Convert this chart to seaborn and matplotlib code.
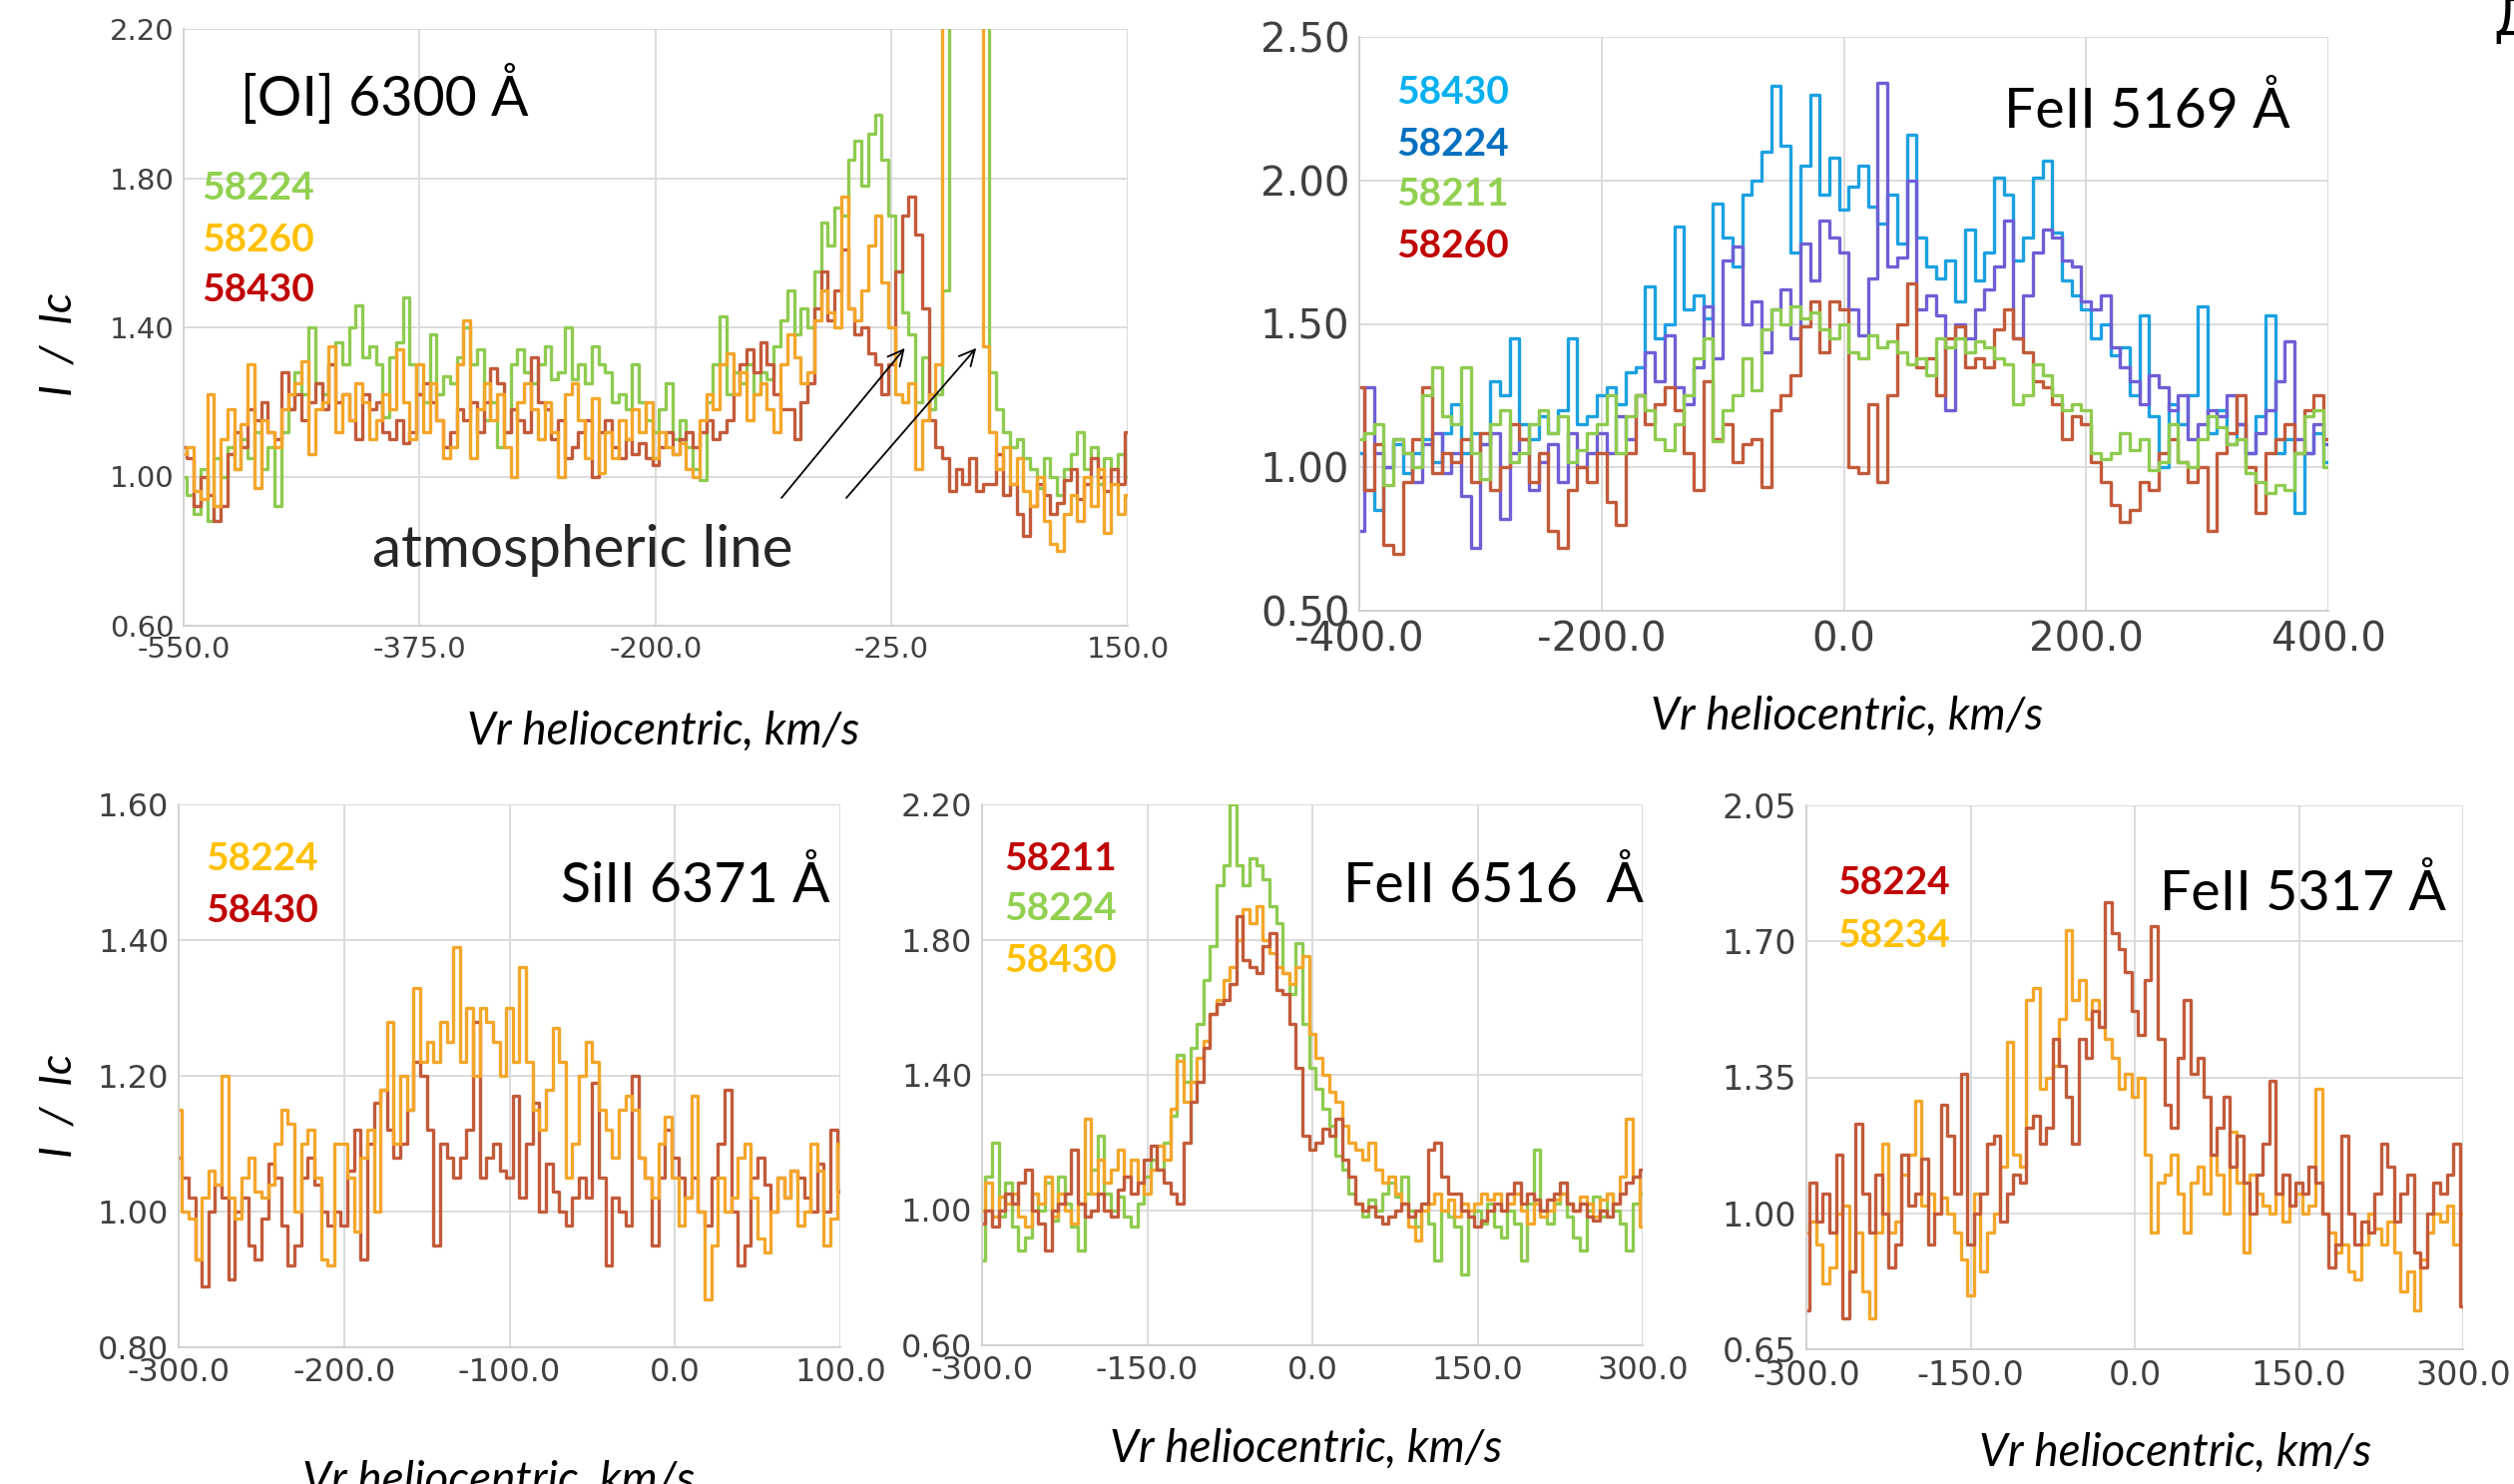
import numpy as np
import matplotlib
matplotlib.use("Agg")
import matplotlib.pyplot as plt
import seaborn as sns

# ---------------- DATA ----------------
# [OI] 6300 A : velocity grid -550..150 km/s
oi_vmin, oi_vmax = -550, 150
oi_58224 = [1.00,0.95,0.90,1.02,0.88,1.05,1.00,1.08,1.02,1.10,
            1.05,1.12,1.02,1.08,0.92,1.12,1.18,1.28,1.22,1.40,
            1.25,1.22,1.30,1.36,1.30,1.40,1.46,1.32,1.35,1.30,
            1.16,1.32,1.36,1.48,1.30,1.22,1.20,1.38,1.22,1.27,
            1.25,1.32,1.40,1.30,1.34,1.15,1.20,1.08,1.12,1.30,
            1.34,1.28,1.25,1.30,1.35,1.26,1.28,1.40,1.26,1.30,
            1.25,1.35,1.30,1.28,1.20,1.22,1.18,1.30,1.20,1.15,
            1.12,1.18,1.25,1.10,1.15,1.08,1.02,0.99,1.20,1.30,
            1.43,1.22,1.28,1.25,1.30,1.22,1.28,1.26,1.35,1.42,
            1.50,1.38,1.45,1.40,1.55,1.68,1.62,1.72,1.70,1.85,
            1.90,1.78,1.92,1.97,1.85,1.70,1.55,1.44,1.38,1.20,
            1.32,1.18,1.22,1.50,3.00,3.00,3.00,3.00,3.00,3.00,
            1.28,1.18,1.12,1.08,1.10,1.05,1.02,0.97,1.05,1.00,
            0.95,1.02,1.06,1.12,1.02,1.08,0.98,1.05,1.02,1.06,1.00]
oi_58260 = [1.06,1.08,0.96,0.94,1.22,0.92,1.10,1.18,1.02,1.14,
            1.30,0.97,1.15,1.12,1.08,1.18,1.22,1.25,1.31,1.06,
            1.18,1.20,1.35,1.12,1.22,1.15,1.25,1.20,1.10,1.15,
            1.22,1.18,1.34,1.20,1.10,1.30,1.12,1.25,1.15,1.05,
            1.08,1.30,1.42,1.05,1.18,1.25,1.15,1.22,1.08,1.00,
            1.20,1.25,1.18,1.10,1.20,1.12,1.00,1.22,1.25,1.15,
            1.05,1.21,1.01,1.12,1.05,1.15,1.10,1.18,1.12,1.20,
            1.05,1.12,1.08,1.06,1.09,1.02,1.00,1.15,1.22,1.18,
            1.30,1.33,1.22,1.28,1.15,1.22,1.25,1.18,1.12,1.30,
            1.38,1.32,1.25,1.28,1.42,1.50,1.44,1.40,1.75,1.45,
            1.42,1.50,1.62,1.70,1.52,1.40,1.22,1.20,1.25,1.02,
            1.15,1.22,1.30,3.00,3.00,3.00,3.00,3.00,3.00,1.35,
            1.12,1.02,1.08,0.98,1.05,0.96,0.92,1.00,0.88,0.82,
            0.80,0.90,0.95,0.88,1.00,0.92,1.02,0.85,0.98,0.90,0.95]
oi_58430 = [1.08,1.05,0.92,1.00,0.95,0.88,0.92,1.06,1.12,1.08,
            1.18,1.15,1.20,1.12,1.10,1.28,1.18,1.22,1.15,1.20,
            1.25,1.18,1.30,1.20,1.22,1.15,1.10,1.22,1.18,1.20,
            1.12,1.10,1.15,1.09,1.12,1.22,1.25,1.20,1.15,1.08,
            1.12,1.18,1.15,1.20,1.12,1.20,1.29,1.25,1.12,1.18,
            1.15,1.12,1.32,1.20,1.18,1.10,1.15,1.05,1.08,1.12,
            1.15,1.00,1.12,1.15,1.08,1.05,1.10,1.06,1.09,1.05,
            1.03,1.08,1.12,1.06,1.10,1.12,1.08,1.12,1.15,1.10,
            1.12,1.15,1.22,1.30,1.34,1.28,1.36,1.30,1.22,1.18,
            1.18,1.10,1.20,1.25,1.45,1.55,1.42,1.50,1.61,1.45,
            1.38,1.40,1.33,1.30,1.22,1.30,1.55,1.70,1.75,1.65,
            1.45,1.15,1.08,1.05,0.96,1.02,0.98,1.05,0.96,0.98,
            0.98,1.06,0.95,0.98,0.90,0.84,0.92,0.98,0.95,0.90,
            0.93,0.99,1.02,0.94,0.98,1.05,1.00,0.96,1.02,0.98,1.12]

# FeII 5169 A : -400..400 km/s
fe5169_vmin, fe5169_vmax = -400, 400
fe5169_58430 = [1.05,0.92,0.85,1.00,1.08,0.98,1.05,1.10,1.02,1.12,
                1.22,1.05,1.12,1.08,1.30,1.25,1.45,1.15,1.10,1.18,
                1.12,1.20,1.45,1.15,1.18,1.25,1.28,1.22,1.33,1.35,
                1.63,1.45,1.50,1.84,1.55,1.60,1.52,1.92,1.80,1.70,
                1.95,2.00,2.10,2.33,2.12,1.75,2.05,2.30,1.95,2.08,
                1.90,1.98,2.05,1.91,1.85,1.95,1.78,2.16,1.80,1.70,
                1.66,1.72,1.58,1.83,1.65,1.75,2.01,1.95,1.72,1.80,
                2.01,2.07,1.82,1.65,1.60,1.55,1.45,1.50,1.39,1.42,
                1.25,1.53,1.18,1.00,1.22,1.15,1.25,1.56,1.12,1.20,
                1.08,1.15,1.05,1.18,1.53,1.05,1.10,0.84,1.05,1.12,1.02]
fe5169_58224 = [0.78,1.28,1.05,1.00,1.10,1.05,0.95,1.08,1.12,0.98,
                1.05,0.90,0.72,1.08,1.12,0.82,1.05,1.10,0.92,1.02,
                1.08,0.95,1.12,1.00,1.05,1.12,1.05,1.18,1.10,1.25,
                1.40,1.30,1.46,1.28,1.22,1.35,1.56,1.38,1.72,1.77,
                1.50,1.58,1.40,1.55,1.62,1.45,1.78,1.65,1.86,1.80,
                1.75,1.55,1.46,1.66,2.34,1.70,1.73,2.00,1.55,1.60,
                1.53,1.20,1.50,1.45,1.55,1.62,1.70,1.86,1.45,1.60,
                1.75,1.83,1.80,1.72,1.70,1.58,1.55,1.60,1.42,1.35,
                1.30,1.22,1.32,1.28,1.20,1.25,1.10,1.15,1.20,1.18,
                1.25,1.15,1.05,1.12,1.20,1.30,1.44,1.10,1.05,1.15,1.08]
fe5169_58211 = [1.10,1.12,1.15,0.94,1.10,1.05,1.00,1.25,1.35,1.18,
                1.15,1.35,1.05,0.96,1.15,1.20,1.02,1.05,1.15,1.20,
                1.12,1.18,1.02,1.06,1.12,1.15,1.25,1.05,1.18,1.25,
                1.20,1.10,1.06,1.15,1.25,1.38,1.45,1.09,1.20,1.25,
                1.38,1.27,1.48,1.55,1.50,1.56,1.52,1.54,1.48,1.45,
                1.50,1.40,1.38,1.46,1.42,1.44,1.40,1.36,1.38,1.32,
                1.45,1.42,1.45,1.40,1.44,1.42,1.38,1.36,1.22,1.25,
                1.36,1.32,1.25,1.20,1.22,1.20,1.05,1.03,1.05,1.12,
                1.06,1.10,0.99,1.02,1.15,1.02,1.00,1.10,1.18,1.14,
                1.08,1.10,0.98,0.95,0.91,0.94,0.92,1.05,1.18,1.20,1.00]
fe5169_58260 = [1.28,0.92,1.08,0.73,0.70,0.95,1.10,1.28,0.98,1.05,
                1.02,1.10,0.95,1.12,0.92,1.00,1.15,1.10,0.95,1.05,
                0.78,0.72,0.92,1.00,0.95,1.05,0.88,0.80,1.05,1.25,
                1.15,1.22,1.28,1.20,1.05,0.92,1.30,1.10,1.15,1.02,
                1.08,1.10,0.93,1.20,1.25,1.32,1.49,1.58,1.40,1.58,
                1.55,1.00,0.98,1.22,0.95,1.25,1.50,1.64,1.35,1.38,
                1.25,1.45,1.49,1.35,1.38,1.35,1.48,1.55,1.45,1.40,
                1.30,1.28,1.22,1.10,1.18,1.15,1.02,0.95,0.87,0.81,
                0.85,0.95,0.92,1.05,1.10,1.02,0.95,1.00,0.78,1.05,
                1.12,1.25,1.00,0.84,1.05,1.10,1.15,1.05,1.20,1.25,1.10]

# SiII 6371 A : -300..100 km/s
si_vmin, si_vmax = -300, 100
si_58224 = [1.15,1.00,0.99,0.93,1.02,1.06,1.04,1.20,1.02,0.99,
            1.05,1.08,1.03,1.02,1.04,1.10,1.15,1.13,1.00,1.10,
            1.12,1.05,0.93,0.92,1.10,1.10,1.05,0.97,1.08,1.12,
            1.00,1.18,1.28,1.10,1.20,1.15,1.33,1.22,1.25,1.22,
            1.28,1.25,1.39,1.22,1.30,1.20,1.30,1.28,1.25,1.20,
            1.30,1.22,1.36,1.22,1.15,1.12,1.18,1.27,1.22,1.05,
            1.10,1.20,1.25,1.22,1.15,1.12,1.08,1.15,1.17,1.15,
            1.08,1.05,1.02,1.10,1.14,1.05,0.98,1.02,1.17,1.00,
            0.87,0.95,1.05,1.00,1.02,1.08,1.10,1.02,0.96,0.94,
            1.00,1.05,1.02,1.06,0.98,1.00,1.10,1.06,0.95,0.99,1.10]
si_58430 = [1.08,1.05,1.02,0.93,0.89,1.00,1.04,1.02,0.90,1.00,
            1.02,0.95,0.93,0.99,1.07,1.05,0.98,0.92,0.95,1.05,
            1.08,1.04,1.00,0.98,1.00,0.98,1.06,1.12,0.93,1.10,
            1.16,1.18,1.12,1.08,1.10,1.15,1.22,1.20,1.12,0.95,
            1.10,1.08,1.05,1.08,1.12,1.28,1.05,1.08,1.10,1.06,
            1.05,1.17,1.02,1.10,1.16,1.00,1.07,1.03,1.00,0.98,
            1.02,1.05,1.02,1.19,1.05,0.92,1.02,1.00,0.98,1.20,
            1.08,1.05,0.95,1.05,1.12,1.08,1.05,1.02,1.05,1.00,
            0.98,1.05,1.10,1.18,1.00,0.92,0.95,1.05,1.08,1.04,
            1.00,1.05,1.02,1.06,1.05,1.02,1.00,1.07,1.00,1.12,1.03]

# FeII 6516 A : -300..300 km/s
fe6516_vmin, fe6516_vmax = -300, 300
fe6516_58224 = [0.85,1.10,1.20,0.98,1.08,0.95,0.88,0.92,1.05,1.00,
                1.08,0.97,1.10,1.02,0.95,0.88,1.05,1.12,1.22,1.05,
                1.00,1.04,0.98,0.95,1.02,1.10,1.15,1.12,1.20,1.28,
                1.46,1.38,1.48,1.55,1.68,1.78,1.96,2.02,2.20,2.02,
                1.96,2.04,2.02,1.98,1.90,1.85,1.70,1.64,1.79,1.55,
                1.42,1.36,1.30,1.25,1.16,1.12,1.05,1.02,0.98,1.03,
                1.00,1.05,1.08,1.04,1.10,1.00,0.95,1.02,0.96,0.85,
                1.00,0.98,0.95,0.81,0.98,1.00,0.96,1.02,0.95,0.92,
                1.00,0.96,0.85,1.02,1.18,1.00,0.96,1.02,1.05,0.98,
                0.92,0.88,1.00,1.04,0.98,1.05,1.00,0.96,0.88,1.02,1.05]
fe6516_58430 = [1.00,1.08,0.98,1.04,1.02,1.05,0.98,0.95,1.05,1.02,
                1.10,0.98,1.05,1.00,0.96,1.02,1.27,1.05,1.15,1.08,
                1.12,1.18,1.10,1.15,1.08,1.05,1.12,1.19,1.15,1.30,
                1.44,1.32,1.38,1.45,1.50,1.58,1.62,1.68,1.72,1.80,
                1.89,1.85,1.90,1.80,1.76,1.72,1.70,1.67,1.72,1.75,
                1.52,1.45,1.40,1.35,1.32,1.25,1.20,1.18,1.15,1.20,
                1.12,1.08,1.10,1.05,1.02,0.95,0.91,1.00,1.02,1.05,
                1.00,1.03,0.98,1.02,1.00,1.02,1.05,1.03,1.05,1.00,
                1.02,1.05,1.00,0.96,1.02,0.98,1.00,1.03,1.05,1.02,
                1.00,1.04,1.02,0.98,1.03,1.05,1.02,1.10,1.27,1.10,0.95]
fe6516_58211 = [0.96,1.00,0.95,1.00,1.05,1.02,1.08,1.12,1.00,0.96,
                0.88,1.00,1.02,1.05,1.18,1.02,0.98,1.00,1.05,1.00,
                0.98,1.06,1.10,1.05,1.08,1.15,1.19,1.12,1.08,1.05,
                1.02,1.20,1.32,1.38,1.48,1.58,1.61,1.62,1.67,1.87,
                1.74,1.72,1.70,1.78,1.82,1.65,1.64,1.55,1.42,1.22,
                1.18,1.20,1.24,1.22,1.27,1.15,1.10,1.02,1.00,1.01,
                0.98,0.96,0.98,1.00,1.02,0.98,1.00,1.02,1.18,1.20,
                1.10,1.05,1.05,1.00,0.98,0.95,0.97,1.00,1.02,1.00,
                1.05,1.08,1.02,1.05,1.03,1.00,1.03,1.05,1.08,1.02,
                1.00,1.02,0.98,0.97,1.00,0.98,1.02,1.05,1.08,1.10,1.12]

# FeII 5317 A : -300..300 km/s
fe5317_vmin, fe5317_vmax = -300, 300
fe5317_58224 = [0.75,1.08,0.98,1.05,0.95,1.15,0.73,0.85,1.23,1.05,
                0.95,1.10,1.00,0.86,0.92,1.15,1.02,1.05,1.14,0.92,
                1.00,1.28,1.20,1.05,1.36,0.92,1.00,1.05,1.18,1.20,
                0.98,1.05,1.10,1.08,1.22,1.25,1.18,1.22,1.45,1.38,
                1.30,1.18,1.45,1.40,1.52,1.48,1.80,1.72,1.68,1.62,
                1.52,1.46,1.60,1.74,1.45,1.28,1.22,1.40,1.55,1.36,
                1.40,1.30,1.15,1.22,1.30,1.12,1.20,1.08,1.00,1.10,
                1.18,1.34,1.05,1.10,1.02,1.08,1.05,1.12,1.08,1.00,
                0.86,0.92,1.20,1.00,0.92,0.98,0.95,1.05,1.18,1.12,
                0.98,1.05,1.10,0.90,0.86,1.00,1.08,1.05,1.10,1.18,0.76]
fe5317_58234 = [0.95,0.98,0.92,0.82,0.86,1.00,1.02,0.85,0.95,0.80,
                0.73,0.95,1.18,0.95,0.98,1.10,1.15,1.29,1.02,1.05,
                1.00,1.04,1.00,0.95,0.88,0.79,1.05,0.85,0.95,1.00,
                1.12,1.44,1.15,1.12,1.55,1.58,1.32,1.35,1.38,1.50,
                1.73,1.55,1.60,1.50,1.55,1.48,1.45,1.40,1.32,1.36,
                1.30,1.35,1.15,0.95,1.08,1.10,1.15,1.05,0.95,1.08,
                1.12,1.05,1.15,1.10,1.00,1.21,1.08,0.90,1.10,1.05,
                1.02,1.00,1.05,0.98,1.02,1.05,1.00,1.02,1.32,1.00,
                0.95,0.90,0.92,0.85,0.83,0.92,1.00,0.96,0.92,0.98,
                0.90,0.80,0.85,0.75,0.88,0.95,1.00,0.98,1.02,0.92,1.00]

# ticks
oi_xticks = [-550, -375, -200, -25, 150];  oi_yticks = [0.60, 1.00, 1.40, 1.80, 2.20]
fe5169_xticks = [-400, -200, 0, 200, 400]; fe5169_yticks = [0.50, 1.00, 1.50, 2.00, 2.50]
si_xticks = [-300, -200, -100, 0, 100];    si_yticks = [0.80, 1.00, 1.20, 1.40, 1.60]
fe6516_xticks = [-300, -150, 0, 150, 300]; fe6516_yticks = [0.60, 1.00, 1.40, 1.80, 2.20]
fe5317_xticks = [-300, -150, 0, 150, 300]; fe5317_yticks = [0.65, 1.00, 1.35, 1.70, 2.05]

# ---------------- STYLE ----------------
W, H = 2519, 1487
sns.set_theme(style="white")
plt.rcParams["font.family"] = ["DejaVu Sans"]

C_ORANGE = "#F4A62A"
C_RED = "#C35A3A"
C_GREEN = "#8FCB4F"
C_LBLUE = "#1BA1E2"
C_PURPLE = "#6E5FD6"
L_GREEN, L_ORANGE, L_RED, L_LBLUE, L_BLUE = "#92D050", "#FFC000", "#C00000", "#00B0F0", "#0070C0"
GRID = "#D9D9D9"
TXT = "Lato"

fig = plt.figure(figsize=(W / 100, H / 100), dpi=100)


def add_ax(l, t, r, b):
    return fig.add_axes([l / W, 1 - b / H, (r - l) / W, (b - t) / H])


def ftext(px, py, s, **kw):
    fig.text(px / W, 1 - py / H, s, **kw)


def style(ax, xt, yt, fs):
    ax.set_xlim(xt[0], xt[-1])
    ax.set_ylim(yt[0], yt[-1])
    ax.set_xticks(xt)
    ax.set_yticks(yt)
    ax.set_xticklabels([f"{v:.1f}" for v in xt])
    ax.set_yticklabels([f"{v:.2f}" for v in yt])
    ax.grid(True, color=GRID, lw=1.3)
    ax.set_axisbelow(True)
    for s in ["top", "right"]:
        ax.spines[s].set_visible(False)
    for s in ["left", "bottom"]:
        ax.spines[s].set_color("#CFCFCF")
        ax.spines[s].set_linewidth(1.3)
    ax.tick_params(length=4, width=1.2, color="#CFCFCF", labelsize=fs,
                   labelcolor="#404040", pad=3)
    ax.set_xlabel("")
    ax.set_ylabel("")


def spec(ax, vmin, vmax, vals, color):
    v = np.linspace(vmin, vmax, len(vals))
    sns.lineplot(x=v, y=vals, ax=ax, color=color, linewidth=2.4,
                 drawstyle="steps-mid", estimator=None, sort=False, legend=False)


# Panel 1 [OI]
ax1 = add_ax(184, 29, 1130, 627)
spec(ax1, oi_vmin, oi_vmax, oi_58224, C_GREEN)
spec(ax1, oi_vmin, oi_vmax, oi_58430, C_RED)
spec(ax1, oi_vmin, oi_vmax, oi_58260, C_ORANGE)
style(ax1, oi_xticks, oi_yticks, 21)
for tip, tail in [((-14, 1.35), (-108, 0.937)), ((39, 1.35), (-60, 0.937))]:
    ax1.annotate("", xy=tip, xytext=tail,
                 arrowprops=dict(arrowstyle="->", color="black", lw=1.3, mutation_scale=28))
ftext(584, 551, "atmospheric line", family=TXT, fontsize=42, ha="center", va="center")

# Panel 2 FeII 5169
ax2 = add_ax(1362, 37, 2333, 612)
spec(ax2, fe5169_vmin, fe5169_vmax, fe5169_58430, C_LBLUE)
spec(ax2, fe5169_vmin, fe5169_vmax, fe5169_58224, C_PURPLE)
spec(ax2, fe5169_vmin, fe5169_vmax, fe5169_58260, C_RED)
spec(ax2, fe5169_vmin, fe5169_vmax, fe5169_58211, C_GREEN)
style(ax2, fe5169_xticks, fe5169_yticks, 29)

# Panel 3 SiII 6371
ax3 = add_ax(179, 806, 842, 1350)
spec(ax3, si_vmin, si_vmax, si_58430, C_RED)
spec(ax3, si_vmin, si_vmax, si_58224, C_ORANGE)
style(ax3, si_xticks, si_yticks, 23)

# Panel 4 FeII 6516
ax4 = add_ax(984, 806, 1646, 1348)
spec(ax4, fe6516_vmin, fe6516_vmax, fe6516_58224, C_GREEN)
spec(ax4, fe6516_vmin, fe6516_vmax, fe6516_58430, C_ORANGE)
spec(ax4, fe6516_vmin, fe6516_vmax, fe6516_58211, C_RED)
style(ax4, fe6516_xticks, fe6516_yticks, 23)

# Panel 5 FeII 5317
ax5 = add_ax(1810, 807, 2468, 1352)
spec(ax5, fe5317_vmin, fe5317_vmax, fe5317_58234, C_ORANGE)
spec(ax5, fe5317_vmin, fe5317_vmax, fe5317_58224, C_RED)
style(ax5, fe5317_xticks, fe5317_yticks, 24)

# Titles
for (px, py, s) in [(241, 96, "[OI] 6300 Å"), (2008, 112, "FeII 5169 Å"),
                    (562, 887, "SiII 6371 Å"), (1346, 888, "FeII 6516  Å"),
                    (2164, 896, "FeII 5317 Å")]:
    ftext(px, py, s, family=TXT, fontsize=40, ha="left", va="center", color="black")

# Legend labels
legend_items = [
    (202, 188, "58224", L_GREEN), (202, 241, "58260", L_ORANGE), (202, 291, "58430", L_RED),
    (1399, 93, "58430", L_LBLUE), (1399, 145, "58224", L_BLUE), (1399, 194, "58211", L_GREEN),
    (1399, 246, "58260", L_RED),
    (206, 861, "58224", L_ORANGE), (206, 913, "58430", L_RED),
    (1006, 860, "58211", L_RED), (1006, 911, "58224", L_GREEN), (1006, 962, "58430", L_ORANGE),
    (1841, 885, "58224", L_RED), (1841, 937, "58234", L_ORANGE),
]
for px, py, s, c in legend_items:
    ftext(px, py, s, family=TXT, fontsize=28, fontweight="bold", color=c, ha="left", va="center")

# Axis labels
for px, py in [(665, 733), (1851, 718), (500, 1484), (1309, 1452), (2180, 1456)]:
    ftext(px, py, "Vr heliocentric, km/s", family=TXT, style="italic", fontsize=33,
          ha="center", va="center", color="black")
for px, py in [(59, 345), (59, 1108)]:
    ftext(px, py, "I  /  Ic", family=TXT, style="italic", fontsize=32, rotation=90,
          ha="center", va="center", color="black")

# cut-off glyph at top right corner
ftext(2498, 36, "Д", family="DejaVu Sans", fontsize=38, ha="left", va="baseline", color="black")

fig.savefig("out.png", dpi=100)
